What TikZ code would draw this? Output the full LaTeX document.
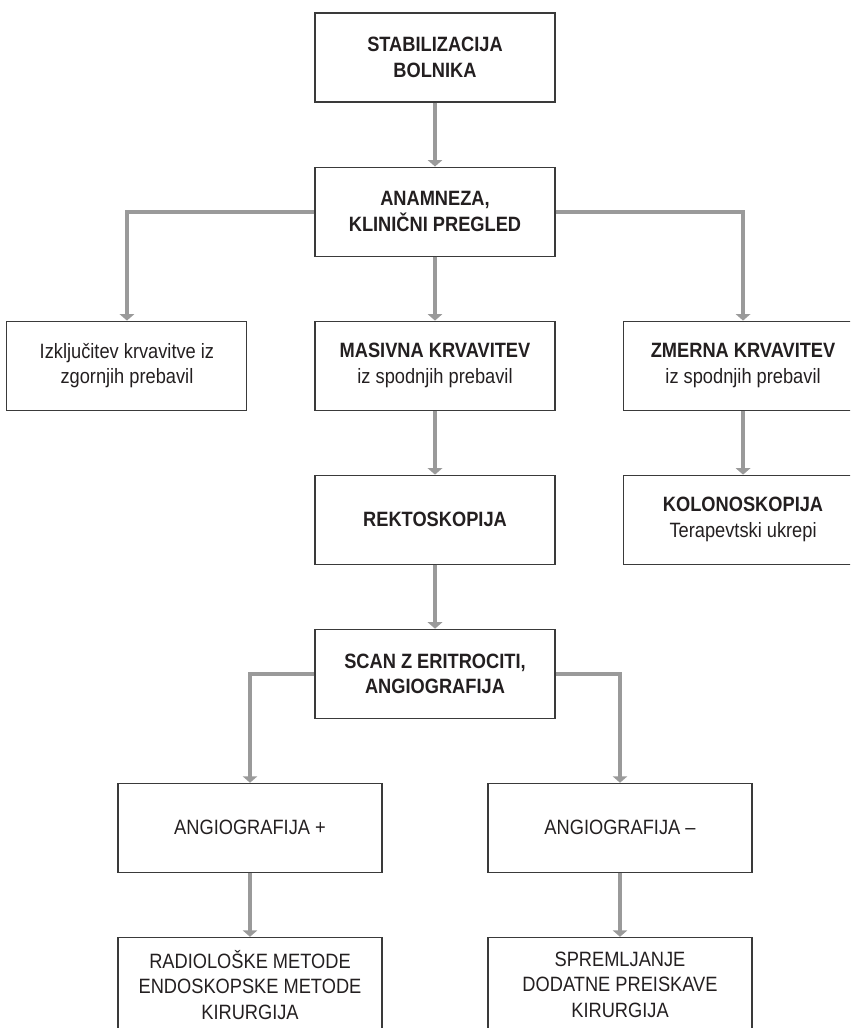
\documentclass[tikz,border=0pt]{standalone}
\usepackage{fontspec}
\setmainfont{Liberation Sans}[FakeStretch=0.88]
\usepackage{tikz}
\usetikzlibrary{arrows.meta}
\usetikzlibrary{positioning}

\definecolor{flowgray}{HTML}{9A9A9A}
\definecolor{boxline}{HTML}{3A3A3A}
\definecolor{boxtext}{HTML}{231F20}

\begin{document}
\begin{tikzpicture}[
    node distance=1.28cm and 1.34cm,
    box/.style={draw=boxline, line width=0.6pt, minimum width=4.8cm, minimum height=1.78cm,
      align=center, text=boxtext, inner sep=2pt, font=\fontsize{11.8}{14.6}\selectfont},
    widebox/.style={box, minimum width=5.28cm},
    flow/.style={draw=flowgray, line width=0.8mm, -{Triangle[width=2.9mm,length=1.3mm]}}
  ]
    \useasboundingbox (0,0) rectangle (17,-20.56);
    \clip (0,0) rectangle (17,-20.56);

    \node[box] (stab) at (8.7,-1.15) {\textbf{STABILIZACIJA}\\\textbf{BOLNIKA}};
    \node[box, below=of stab] (anam) {\textbf{ANAMNEZA,}\\\textbf{KLINIČNI PREGLED}};
    \node[box, below=of anam] (masiv) {\textbf{MASIVNA KRVAVITEV}\\iz spodnjih prebavil};
    \node[box, left=of masiv] (izklj) {Izključitev krvavitve iz\\zgornjih prebavil};
    \node[box, right=of masiv] (zmer) {\textbf{ZMERNA KRVAVITEV}\\iz spodnjih prebavil};
    \node[box, below=of masiv] (rekto) {\textbf{REKTOSKOPIJA}};
    \node[box, below=of zmer] (kolono) {\textbf{KOLONOSKOPIJA}\\Terapevtski ukrepi};
    \node[box, below=of rekto] (scan) {\textbf{SCAN Z ERITROCITI,}\\\textbf{ANGIOGRAFIJA}};
    \node[widebox, below=of scan, xshift=-3.7cm] (angplus) {ANGIOGRAFIJA +};
    \node[widebox, below=of scan, xshift=3.7cm] (angminus) {ANGIOGRAFIJA --};
    \node[widebox, minimum height=1.9cm, below=of angplus] (metode) {RADIOLOŠKE METODE\\ENDOSKOPSKE METODE\\KIRURGIJA};
    \node[widebox, minimum height=1.9cm, below=of angminus] (spreml) {SPREMLJANJE\\DODATNE PREISKAVE\\KIRURGIJA};

    \draw[flow] (stab) -- (anam);
    \draw[flow] (anam) -- (masiv);
    \draw[flow] (anam.west) -| (izklj.north);
    \draw[flow] (anam.east) -| (zmer.north);
    \draw[flow] (masiv) -- (rekto);
    \draw[flow] (zmer) -- (kolono);
    \draw[flow] (rekto) -- (scan);
    \draw[flow] (scan.west) -| (angplus.north);
    \draw[flow] (scan.east) -| (angminus.north);
    \draw[flow] (angplus) -- (metode);
    \draw[flow] (angminus) -- (spreml);
\end{tikzpicture}
\end{document}
